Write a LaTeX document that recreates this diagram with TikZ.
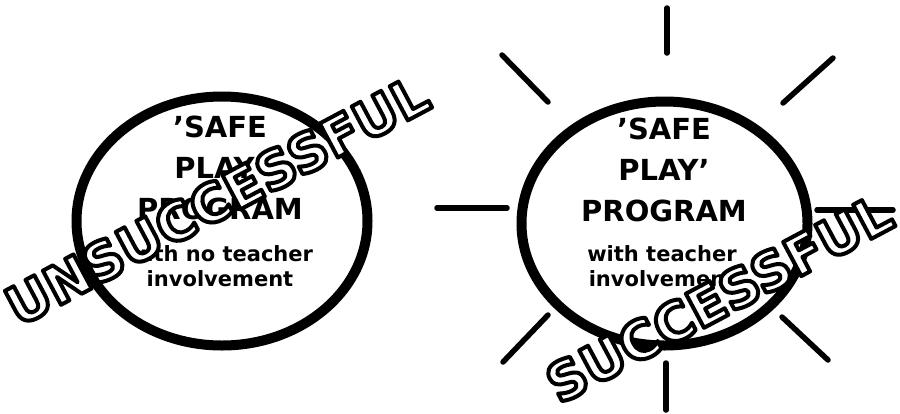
\documentclass[tikz,border=0pt]{standalone}
\usepackage{fontspec}
\setmainfont{DejaVu Sans}
\usepackage{xcolor}
\usetikzlibrary{shapes.geometric,positioning}
% hollow letters: white fill, black outline
\newcommand{\hollow}[1]{\special{pdf:literal direct 1 g 0 G 4 w 1 j 2 Tr}#1\special{pdf:literal direct 0 Tr 0 g 0 G 0.4 w 0 j}}

\begin{document}
\begin{tikzpicture}[x=1pt,y=-1pt,
  ring/.style={draw=black,ellipse,line width=10pt,inner sep=0pt},
  ray/.style={line width=5.5pt,line cap=round},
  title/.style={align=center,font=\fontsize{29}{41}\selectfont\bfseries},
  note/.style={align=center,font=\fontsize{21}{25}\selectfont\bfseries},
  stamp/.style={inner sep=0pt,font=\fontsize{53}{60}\selectfont\bfseries}
]
\useasboundingbox (0,0) rectangle (900,413);

% Left programme: no teacher involvement.
\node[ring,minimum width=291pt,minimum height=249pt] (leftring) at (222,221) {};
\node[title] (lefttitle) at (220,168) {'SAFE\\PLAY'\\PROGRAM};
\node[note] (leftnote) at (220,266) {with no teacher\\involvement};

% Right programme: with teacher involvement.
\node[ring,minimum width=286pt,minimum height=244pt] (rightring) at (664.5,223.5) {};
\foreach \a/\b in {{(667,8)}/{(667,53)},{(833,58)}/{(783,103)},
    {(817,210)}/{(893,210)},{(782,317)}/{(828,360)},{(666,363)}/{(666,410)},
    {(548,315)}/{(503,362)},{(437,208)}/{(507,208)},{(502,55)}/{(548,102)}}
  \draw[ray] \a -- \b;
\node[title] (righttitle) at (664,170) {'SAFE\\PLAY'\\PROGRAM};
\node[note] (rightnote) at (662,266) {with teacher\\involvement};

% Stamps on top.
\node[stamp,rotate=28] (fail) at (217,200) {\hollow{UNSUCCESSFUL}};
\node[stamp,rotate=28] (pass) at (719,298) {\hollow{SUCCESSFUL}};
\end{tikzpicture}
\end{document}
